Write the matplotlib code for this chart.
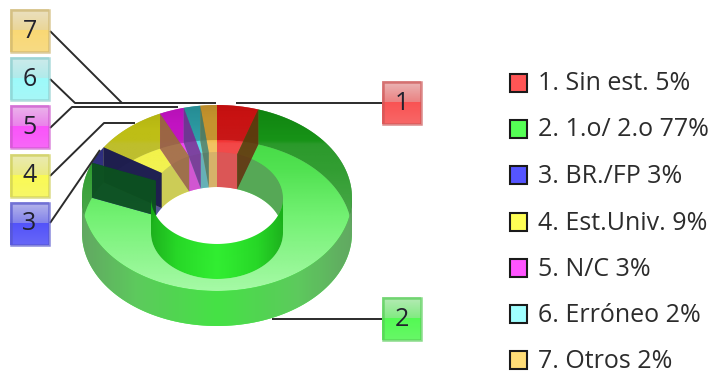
import numpy as np
import matplotlib
matplotlib.use("Agg")
import matplotlib.pyplot as plt
from matplotlib.path import Path
from matplotlib.patches import PathPatch, Rectangle

# ---- data ----
values = [5, 77, 3, 9, 3, 2, 2]
numbers = ["1", "2", "3", "4", "5", "6", "7"]
legend_labels = ["1. Sin est. 5%", "2. 1.o/ 2.o 77%", "3. BR./FP 3%", "4. Est.Univ. 9%",
                 "5. N/C 3%", "6. Erróneo 2%", "7. Otros 2%"]
# ---- styles ----
hues = [(1, 0, 0), (0, 1, 0), (0, 0, 1), (1, 1, 0), (1, 0, 1), (.15, .85, .9), (1, .72, .15)]
swatches = ["#ff5555", "#55ff55", "#5555ff", "#ffff55", "#ff55ff", "#a0ffff", "#ffdd77"]
lum = [1.5, 1.0, .8, 1.35, 1.4, 1.25, 1.45]
face_alpha = [.45, .7, .85, .5, .5, .5, .4]

CX, CY, RX, RY, RIX, RIY, D = 217, 198, 135, 93, 66, 46, 35

fig = plt.figure(figsize=(7.10, 3.73), dpi=100)
ax = fig.add_axes([0, 0, 1, 1])
ax.set_xlim(0, 710); ax.set_ylim(373, 0); ax.axis("off")

def shade(h, lo, hi):
    return np.clip(lo + (hi - lo) * np.array(h, float), 0, 255) / 255

def arc(a0, a1, rx, ry, dy):
    n = max(int(abs(a1 - a0) / 2), 2) + 1
    a = np.radians(np.linspace(a0, a1, n))
    return np.c_[CX + rx * np.sin(a), CY - ry * np.cos(a) + dy]

def poly(pts):
    pts = np.vstack([pts, pts[:1]])
    return Path(pts, [Path.MOVETO] + [Path.LINETO] * (len(pts) - 2) + [Path.CLOSEPOLY])

def fill(pts, col, alpha, z):
    ax.add_patch(PathPatch(poly(pts), facecolor=col, edgecolor="none", alpha=alpha, lw=0, zorder=z))

def grad(pts, fn, z, horizontal=False):
    xs, ys = pts[:, 0], pts[:, 1]
    x0, x1, y0, y1 = xs.min(), xs.max(), ys.min(), ys.max()
    if x1 - x0 < .5 or y1 - y0 < .5:
        return
    n = 96
    t = np.linspace(x0, x1, n) if horizontal else np.linspace(y0, y1, n)
    img = np.array([fn(v) for v in t])
    img = img[None, :, :] if horizontal else img[:, None, :]
    im = ax.imshow(img, extent=(x0, x1, y1, y0), aspect="auto", zorder=z, interpolation="bilinear")
    im.set_clip_path(PathPatch(poly(pts), transform=ax.transData))

def ring(a0, a1, rx, ry, irx, iry, dy=0):
    return np.vstack([arc(a0, a1, rx, ry, dy), arc(a1, a0, irx, iry, dy)])

def wall(a0, a1, rx, ry):
    return np.vstack([arc(a0, a1, rx, ry, 0), arc(a1, a0, rx, ry, D)])

def clip_range(a0, a1, lo, hi):
    s, e = max(a0, lo), min(a1, hi)
    return (s, e) if e > s else None

total = sum(values)
edges = np.cumsum([0] + values) / total * 360
BACK = [(-90, 90), (270, 450)]

for i, h in enumerate(hues):
    a0, a1 = edges[i], edges[i + 1]
    L = lum[i]
    # bottom face
    fill(ring(a0, a1, RX, RY, RIX, RIY, D), shade(h, 15, 240), .8, 2)
    # back walls
    for lo, hi in BACK:
        r = clip_range(a0, a1, lo, hi)
        if r:
            fill(wall(r[0], r[1], RX, RY), shade(h, 8, 100 * L), .9, 3)
            fill(wall(r[0], r[1], RX, RY), shade(h, 8, 120 * L), .3, 5.2)
            fill(wall(r[0], r[1], RIX, RIY), shade(h, 95, 140 * L), .72, 3)
    # top face with vertical gradient
    def top_fn(y, h=h, L=L):
        f = (y - (CY - RY)) / (2 * RY)
        stops = [0, .19, .21, .35, .6, 1]
        lo = np.interp(f, stops, [10, 30, 78, 95, 150, 235])
        hi0 = np.interp(f, stops, [150, 190, 205, 215, 240, 255])
        hi = min(hi0 * L, max(hi0, 242))
        return np.r_[shade(h, lo, hi), .6]
    grad(ring(a0, a1, RX, RY, RIX, RIY), top_fn, 5)
    # end faces (earlier slices lie in front)
    for a in (a0, a1):
        p0, p1 = arc(a, a, RX, RY, 0)[0], arc(a, a, RIX, RIY, 0)[0]
        q = np.array([p0, p1, p1 + [0, D], p0 + [0, D]])
        fill(q, shade(h, 12, 105 * L), face_alpha[i], 5.5 - i * .01)
    # front walls
    r = clip_range(a0, a1, 90, 270)
    if r:
        def outer_fn(x, h=h):
            f = abs(x - CX) / RX
            lo, hi = np.interp(f, [0, .6, 1], [70, 95, 100]), np.interp(f, [0, .6, 1], [225, 200, 165])
            return np.r_[shade(h, lo, hi), .95]
        def inner_fn(x, h=h):
            f = abs(x - CX) / RIX
            lo, hi = np.interp(f, [0, .6, 1], [40, 30, 20]), np.interp(f, [0, .6, 1], [238, 215, 175])
            return np.r_[shade(h, lo, hi), .95]
        grad(wall(r[0], r[1], RX, RY), outer_fn, 6, horizontal=True)
        grad(wall(r[0], r[1], RIX, RIY), inner_fn, 6, horizontal=True)

# ---- leader lines (elbows from the label boxes to the slices) ----
leaders = {
    "1": [(382, 103), (236, 103)],
    "2": [(382, 319), (272, 319)],
    "3": [(50, 223), (100, 150)],
    "4": [(50, 176), (104, 123), (135, 123)],
    "5": [(50, 128), (72, 107), (178, 107)],
    "6": [(50, 79), (75, 103), (205, 103)],
    "7": [(50, 31), (122, 103), (216, 103)],
}
for pts in leaders.values():
    pts = np.array(pts)
    ax.plot(pts[:, 0], pts[:, 1], color="#2b2b2b", lw=1.4, zorder=8, solid_capstyle="butt")

# ---- label boxes ----
boxes = {"7": (10, 9), "6": (10, 57), "5": (10, 105), "4": (10, 154), "3": (10, 202),
         "1": (382, 81), "2": (382, 297)}
W, H = 39, 43
white = np.ones(3)
for n, c in zip(numbers, swatches):
    x, y = boxes[n]
    base = np.array(matplotlib.colors.to_rgb(c))
    stops_c = [base * .3 + white * .62, base * .62 + white * .3,
               base * .98, base * .85 + white * .12]
    t = np.linspace(0, 1, 86)
    img = np.stack([np.interp(t, [0, .499, .5, 1], [sc[k] for sc in stops_c]) for k in range(3)], axis=1)[:, None, :]
    ax.imshow(np.clip(img, 0, 1), extent=(x, x + W, y + H, y), aspect="auto", zorder=9, interpolation="nearest")
    ax.add_patch(Rectangle((x + .5, y + .5), W - 1, H - 1, fill=False, ec=base * .7 + .1, lw=1.8, alpha=.7, zorder=10))
    ax.text(x + W / 2, y + H / 2 + .5, n, ha="center", va="center", fontsize=18,
            family="Open Sans", color="#22222e", zorder=11)

# ---- legend ----
ys = [84, 130, 176.5, 223, 269, 315, 361]
for y, lab, c in zip(ys, legend_labels, swatches):
    ax.add_patch(Rectangle((509.5, y - 10.5), 17.5, 18, fc=c, ec="#1a1a1a", lw=1.5, zorder=9))
    ax.text(538, y, lab, ha="left", va="center", fontsize=18, family="Open Sans",
            color="#2c2c2c", zorder=9)

ax.set_xlim(0, 710); ax.set_ylim(373, 0)
fig.savefig("out.png", dpi=100)
